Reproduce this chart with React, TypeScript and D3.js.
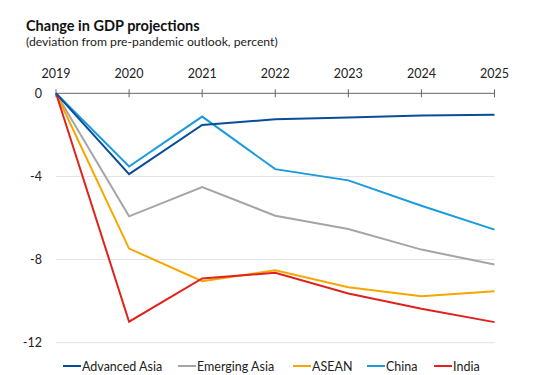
import React from "react";
import * as d3 from "d3";

const years = ["2019", "2020", "2021", "2022", "2023", "2024", "2025"];
const yTicks = [0, -4, -8, -12];
const seriesNames = ["Advanced Asia", "Emerging Asia", "ASEAN", "China", "India"];
const colors = ["#0B4C99", "#A5A5A5", "#F5A700", "#1B9BDD", "#E0211C"];
const advancedAsia = [0, -3.89, -1.52, -1.25, -1.17, -1.07, -1.03];
const emergingAsia = [0, -5.92, -4.51, -5.89, -6.53, -7.52, -8.24];
const asean = [0, -7.47, -9.04, -8.52, -9.33, -9.76, -9.52];
const china = [0, -3.52, -1.12, -3.65, -4.19, -5.41, -6.56];
const india = [0, -10.99, -8.91, -8.64, -9.63, -10.37, -11.01];
const seriesValues = [advancedAsia, emergingAsia, asean, china, india];
const drawOrder = [1, 2, 4, 3, 0];
const legendX = [63, 178, 293, 367, 434];

export default function App() {
  const W = 539, H = 375;
  const x = d3.scalePoint<string>().domain(years).range([56, 494.5]);
  const y = d3.scaleLinear().domain([0, -12]).range([93.3, 342.7]);
  const line = d3.line<number>().x((_, i) => x(years[i]) as number).y((d) => y(d));
  const font = "Lato, 'Open Sans', sans-serif";
  return (
    <svg width={W} height={H} style={{ position: "absolute", left: 0, top: 0 }} fontFamily={font}>
      <rect width={W} height={H} fill="#fff" />
      <text x={26} y={31} fontSize={14.5} fontWeight="bold" fill="#111">Change in GDP projections</text>
      <text x={26} y={46} fontSize={12.2} fill="#222">(deviation from pre-pandemic outlook, percent)</text>
      {years.map((yr) => (
        <text key={yr} x={x(yr)} y={78} fontSize={12.5} textAnchor="middle" fill="#222">{yr}</text>
      ))}
      {yTicks.map((t) => (
        <g key={t}>
          {t !== 0 && <line x1={56} x2={494.5} y1={y(t)} y2={y(t)} stroke="#E3E3E3" strokeWidth={1} />}
          <text x={42} y={y(t) + 4.5} fontSize={12.5} textAnchor="end" fill="#222">{t}</text>
        </g>
      ))}
      <line x1={56} x2={494.5} y1={y(0)} y2={y(0)} stroke="#666" strokeWidth={1} />
      {years.map((yr) => (
        <line key={yr} x1={x(yr)} x2={x(yr)} y1={y(0) - 4} y2={y(0) + 4} stroke="#666" strokeWidth={1} />
      ))}
      {drawOrder.map((si) => (
        <path key={si} d={line(seriesValues[si]) || ""} fill="none" stroke={colors[si]} strokeWidth={2} strokeLinejoin="miter" />
      ))}
      {seriesNames.map((n, i) => (
        <g key={n}>
          <line x1={legendX[i]} x2={legendX[i] + 18} y1={366} y2={366} stroke={colors[i]} strokeWidth={2} />
          <text x={legendX[i] + 19} y={370.5} fontSize={12.5} fill="#222">{n}</text>
        </g>
      ))}
    </svg>
  );
}
